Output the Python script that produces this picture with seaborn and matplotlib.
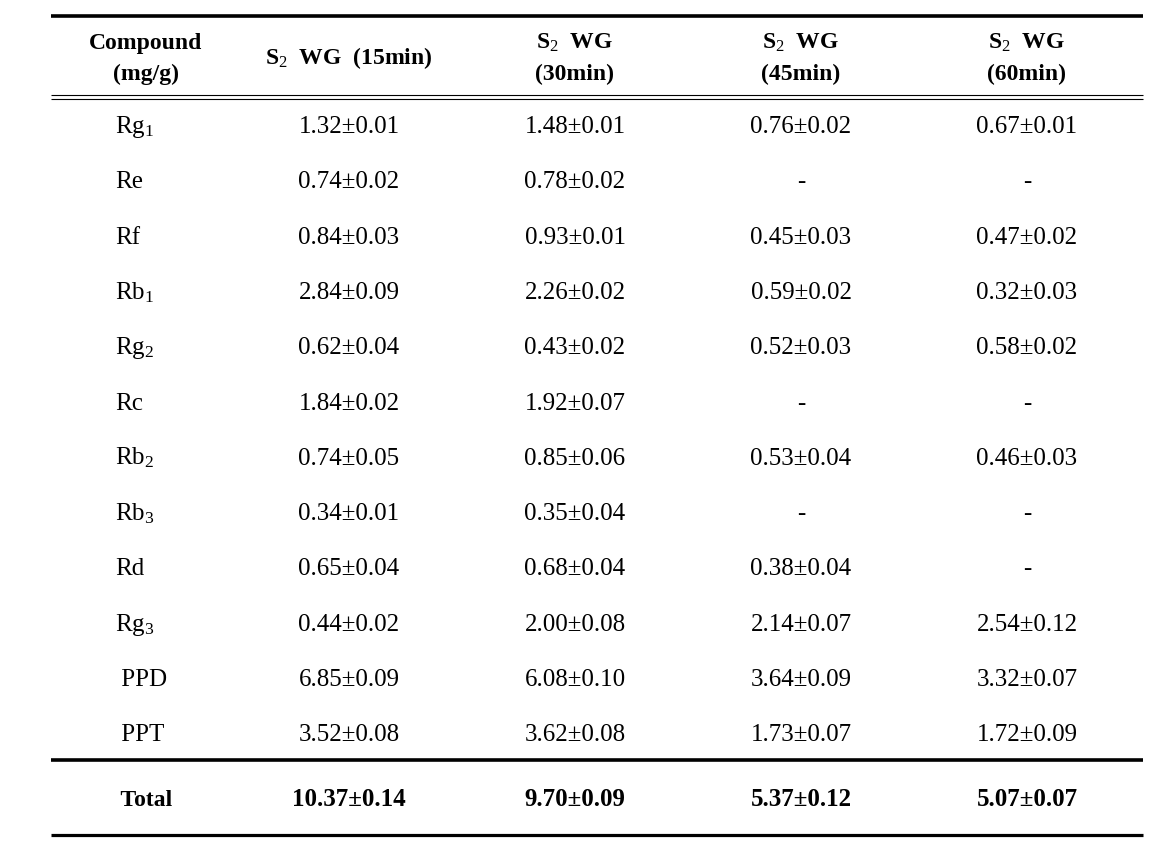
# -*- coding:utf-8 -*-
import pandas as pd
import seaborn as sns
import matplotlib.pyplot as plt

# ---- data ----
compounds = ["Rg$_1$", "Re", "Rf", "Rb$_1$", "Rg$_2$", "Rc", "Rb$_2$",
             "Rb$_3$", "Rd", "Rg$_3$", " PPD", " PPT"]
times = ["15min", "30min", "45min", "60min"]

mean_15 = [1.32, 0.74, 0.84, 2.84, 0.62, 1.84, 0.74, 0.34, 0.65, 0.44, 6.85, 3.52]
sd_15 = [0.01, 0.02, 0.03, 0.09, 0.04, 0.02, 0.05, 0.01, 0.04, 0.02, 0.09, 0.08]
mean_30 = [1.48, 0.78, 0.93, 2.26, 0.43, 1.92, 0.85, 0.35, 0.68, 2.00, 6.08, 3.62]
sd_30 = [0.01, 0.02, 0.01, 0.02, 0.02, 0.07, 0.06, 0.04, 0.04, 0.08, 0.10, 0.08]
mean_45 = [0.76, None, 0.45, 0.59, 0.52, None, 0.53, None, 0.38, 2.14, 3.64, 1.73]
sd_45 = [0.02, None, 0.03, 0.02, 0.03, None, 0.04, None, 0.04, 0.07, 0.09, 0.07]
mean_60 = [0.67, None, 0.47, 0.32, 0.58, None, 0.46, None, None, 2.54, 3.32, 1.72]
sd_60 = [0.01, None, 0.02, 0.03, 0.02, None, 0.03, None, None, 0.12, 0.07, 0.09]

total_mean = [10.37, 9.70, 5.37, 5.07]
total_sd = [0.14, 0.09, 0.12, 0.07]


def fmt(m, s):
    if m is None:
        return "-"
    return f"{m:.2f}±{s:.2f}"


df = pd.DataFrame({"Compound": compounds})
for t, m, s in zip(times, [mean_15, mean_30, mean_45, mean_60],
                   [sd_15, sd_30, sd_45, sd_60]):
    df[t] = [fmt(a, b) for a, b in zip(m, s)]

# ---- style ----
sns.set_style("white")
plt.rcParams["font.family"] = ["Liberation Serif", "DejaVu Serif"]
plt.rcParams["text.color"] = "black"
plt.rcParams["mathtext.fontset"] = "custom"
plt.rcParams["mathtext.rm"] = "Liberation Serif"
plt.rcParams["mathtext.it"] = "Liberation Serif:italic"
plt.rcParams["mathtext.bf"] = "Liberation Serif:bold"

fig = plt.figure(figsize=(11.54, 8.57), dpi=100)
ax = fig.add_axes([0, 0, 1, 1])
ax.set_xlim(0, 1154)
ax.set_ylim(857, 0)
ax.axis("off")

# layout (pixels)
x_left, x_right = 51, 1143
label_x = 115
col_x0, col_dx = 349, 226
row_base0, row_dy = 133, 55.3
body_size = 18
head_size = 17
total_size = 18

# rules
ax.hlines(15.5, x_left, x_right, color="black", lw=2.6)
ax.hlines([95, 98.5], x_left, x_right, color="black", lw=0.8)
ax.hlines(760, x_left, x_right, color="black", lw=2.6)
ax.hlines(834.5, x_left, x_right, color="black", lw=2.3)

# header
ax.text(146, 49, "Compound", ha="center", va="baseline", fontsize=head_size, fontweight="bold")
ax.text(146, 80, "(mg/g)", ha="center", va="baseline", fontsize=head_size, fontweight="bold")
for i, t in enumerate(times):
    cx = col_x0 + i * col_dx
    if i == 0:
        ax.text(cx, 64, f"S$_2$  WG  ({t})", ha="center", va="baseline",
                fontsize=head_size, fontweight="bold")
    else:
        ax.text(cx, 49, "S$_2$  WG", ha="center", va="baseline",
                fontsize=head_size, fontweight="bold")
        ax.text(cx, 80, f"({t})", ha="center", va="baseline",
                fontsize=head_size, fontweight="bold")

# body
for j, row in df.iterrows():
    yb = row_base0 + j * row_dy
    ax.text(label_x, yb, row["Compound"], ha="left", va="baseline", fontsize=body_size)
    for i, t in enumerate(times):
        ax.text(col_x0 + i * col_dx, yb, row[t], ha="center", va="baseline", fontsize=body_size)

# total row
ax.text(label_x, 806, " Total", ha="left", va="baseline", fontsize=head_size, fontweight="bold")
for i in range(len(times)):
    ax.text(col_x0 + i * col_dx, 806, fmt(total_mean[i], total_sd[i]), ha="center",
            va="baseline", fontsize=total_size, fontweight="bold")

plt.savefig("out.png", dpi=100)
